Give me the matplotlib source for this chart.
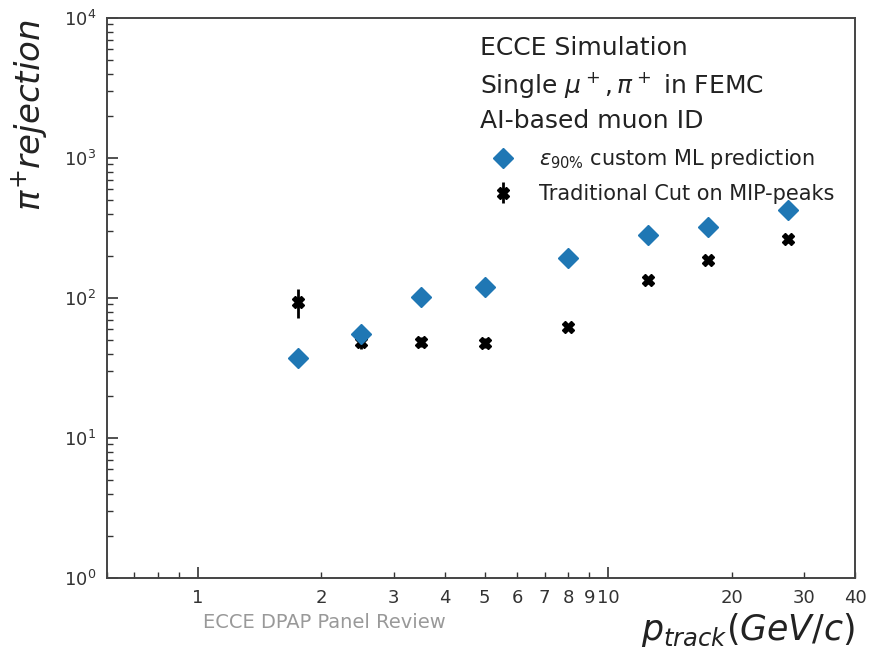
import matplotlib
matplotlib.use("Agg")
import matplotlib.pyplot as plt
from matplotlib.ticker import FixedLocator, FixedFormatter

# Track momentum bin centres (GeV/c)
p_track = [1.75, 2.5, 3.5, 5.0, 8.0, 12.5, 17.5, 27.5]
# pi+ rejection at 90% muon efficiency from the ML classifier
ml_rejection = [37.3, 55.3, 102, 120, 193, 282, 321, 425]
# pi+ rejection from the traditional cut on MIP peaks
cut_rejection = [93.6, 48.5, 48.5, 47.7, 62, 134, 187, 264]
cut_err = [22, 5, 4, 4, 3, 8, 10, 15]

x_major = [1, 10]
x_minor = [0.6, 0.7, 0.8, 0.9, 2, 3, 4, 5, 6, 7, 8, 9, 20, 30, 40]
x_minor_labels = ["", "", "", "", "2", "3", "4", "5", "6", "7", "8", "9", "20", "30", "40"]

fig = plt.figure(figsize=(8.7, 6.49), dpi=100)
W, H = 870, 649
ax = fig.add_axes([107 / W, 1 - 578 / H, (855 - 107) / W, (578 - 18) / H])

cut_handle = ax.errorbar(p_track, cut_rejection, yerr=cut_err, fmt="X", color="black",
                         markersize=9, elinewidth=2, capsize=0,
                         label="Traditional Cut on MIP-peaks", zorder=3)
ml_handle, = ax.plot(p_track, ml_rejection, "D", color="#1f77b4", markersize=10,
                     linestyle="none", label=r"$\varepsilon_{90\%}$ custom ML prediction", zorder=4)

ax.set_xscale("log")
ax.set_yscale("log")
ax.set_xlim(0.6, 40)
ax.set_ylim(1, 1e4)

ax.xaxis.set_major_locator(FixedLocator(x_major))
ax.xaxis.set_major_formatter(FixedFormatter([str(v) for v in x_major]))
ax.xaxis.set_minor_locator(FixedLocator(x_minor))
ax.xaxis.set_minor_formatter(FixedFormatter(x_minor_labels))

ax.tick_params(axis="both", which="both", direction="in", top=False, right=False,
               labelsize=13, colors="#333333", labelcolor="#333333")
ax.tick_params(axis="both", which="major", length=8, width=1.2, pad=8)
ax.tick_params(axis="both", which="minor", length=4, width=1.0, pad=8)

for s in ax.spines.values():
    s.set_color("#444444")
    s.set_linewidth(1.4)

# Axis titles
fig.text(30 / W, 1 - 115 / H, r"$\pi^{+} rejection$", rotation=90, fontsize=24.5,
         ha="center", va="center", color="#222222")
fig.text(855 / W, 1 - 630 / H, r"$p_{track}(GeV/c)$", fontsize=25,
         ha="right", va="center", color="#222222")
fig.text(203 / W, 1 - 622 / H, "ECCE DPAP Panel Review", fontsize=14,
         ha="left", va="center", color="#999999")

# Annotation block
fig.text(480 / W, 1 - 48 / H, "ECCE Simulation", fontsize=18, ha="left", va="center", color="#222222")
fig.text(480 / W, 1 - 85 / H, r"Single $\mu^+,\pi^+$ in FEMC", fontsize=18, ha="left", va="center", color="#222222")
fig.text(480 / W, 1 - 121 / H, "AI-based muon ID", fontsize=18, ha="left", va="center", color="#222222")

leg = ax.legend([ml_handle, cut_handle],
                [ml_handle.get_label(), cut_handle.get_label()],
                loc="upper left", bbox_to_anchor=(493 / W, 1 - 147 / H),
                bbox_transform=fig.transFigure, frameon=False, fontsize=15,
                handlelength=1.0, handletextpad=1.22, labelspacing=0.62,
                borderpad=0, borderaxespad=0)
for t in leg.get_texts():
    t.set_color("#222222")

fig.savefig("out.png", dpi=100)
